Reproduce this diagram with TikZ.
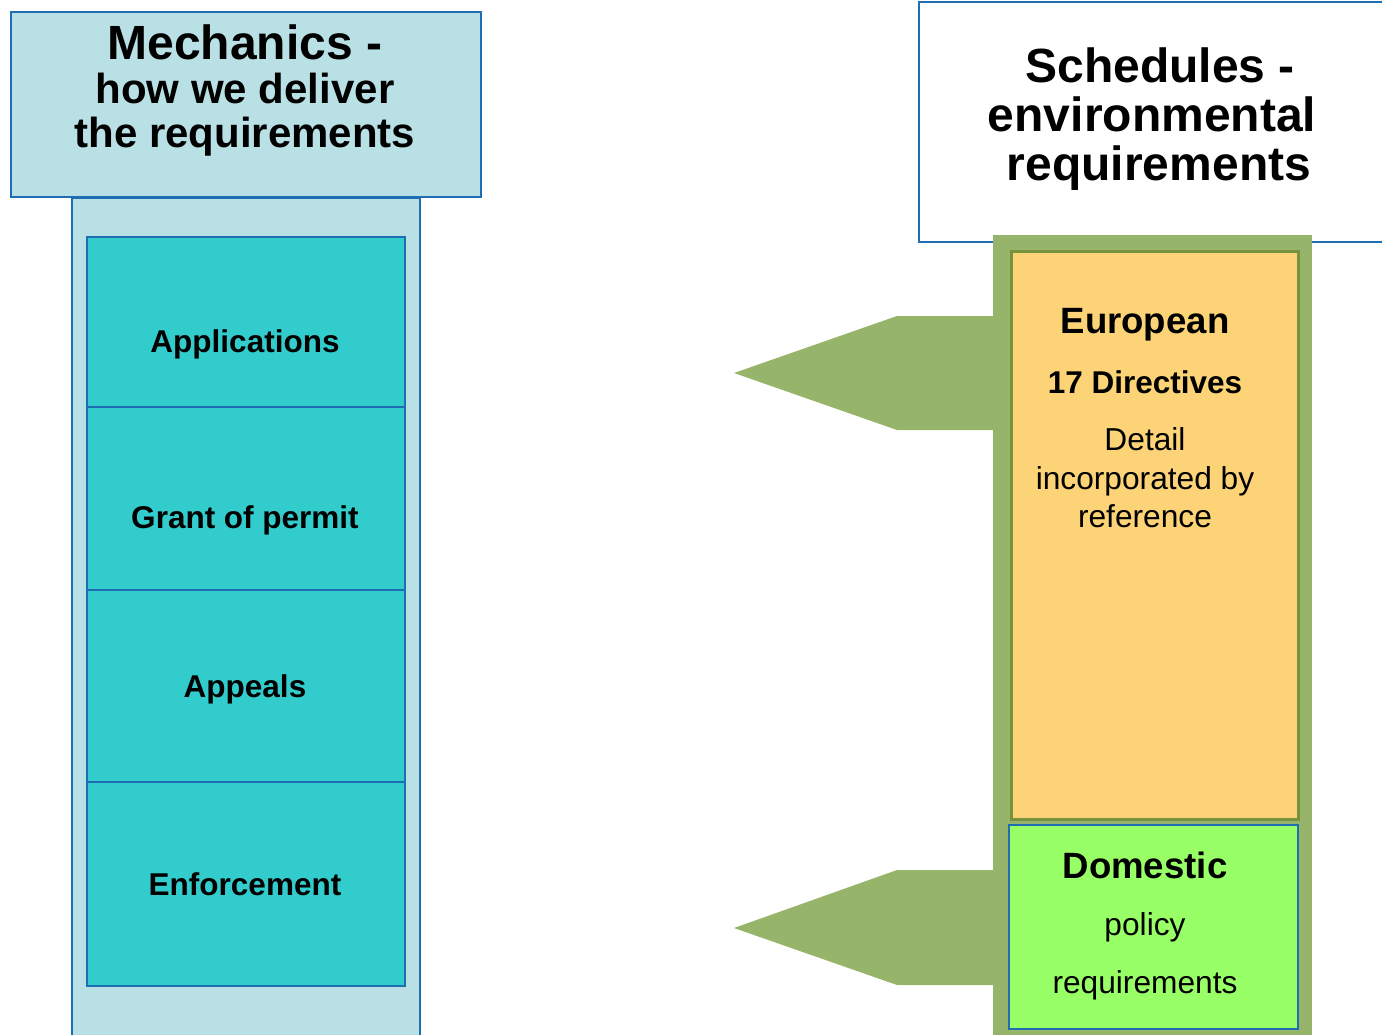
\documentclass[tikz,border=0pt]{standalone}
\usepackage{fontspec}
\setmainfont{Liberation Sans}
\definecolor{lightblue}{HTML}{B9E0E4}
\definecolor{teal}{HTML}{33CCCC}
\definecolor{bordblue}{HTML}{1F6EB4}
\definecolor{leaf}{HTML}{97B46B}
\definecolor{darkleaf}{HTML}{76923C}
\definecolor{amber}{HTML}{FDD378}
\definecolor{lime}{HTML}{99FF66}
\tikzset{
  box/.style={draw=bordblue, line width=1.8pt, inner sep=0pt, anchor=north west},
  stagebox/.style={box, fill=teal},
  lbl/.style={anchor=base, inner sep=0pt, text=black},
  boldlbl/.style={lbl, font=\bfseries\fontsize{31.5}{36}\selectfont},
  normlbl/.style={lbl, font=\fontsize{31.7}{36}\selectfont},
  pointer/.style={fill=leaf, draw=none}
}
\begin{document}
\begin{tikzpicture}[x=1pt,y=-1pt]
\useasboundingbox (0,0) rectangle (1382,1034);
\clip (0,0) rectangle (1382,1034);
% left column
\node[box, fill=lightblue, minimum width=348pt, minimum height=850pt] (lcol) at (71,197) {};
\node[box, fill=lightblue, minimum width=470pt, minimum height=185pt] (ltitle) at (10,11) {};
\node[stagebox, minimum width=318pt, minimum height=170pt] (app) at (86,236) {};
\node[stagebox, minimum width=318pt, minimum height=183pt] (grant) at (86,406) {};
\node[stagebox, minimum width=318pt, minimum height=192pt] (appeal) at (86,589) {};
\node[stagebox, minimum width=318pt, minimum height=204pt] (enf) at (86,781) {};
\node[lbl, font=\bfseries\fontsize{48}{50}\selectfont] (lt1) at (245,59) {Mechanics -};
\node[lbl, font=\bfseries\fontsize{42}{45}\selectfont] (lt2) at (245,103) {how we deliver};
\node[lbl, font=\bfseries\fontsize{42}{45}\selectfont] (lt3) at (245,147) {the requirements};
\node[boldlbl] (appt) at (245,352) {Applications};
\node[boldlbl] (grantt) at (245,528) {Grant of permit};
\node[boldlbl] (appealt) at (245,697) {Appeals};
\node[boldlbl] (enft) at (245,895) {Enforcement};
% right side
\node[box, fill=white, minimum width=480pt, minimum height=240pt] (rtitle) at (918,1) {};
\node[lbl, font=\bfseries\fontsize{48}{50}\selectfont] (rt1) at (1160,82) {Schedules -};
\node[lbl, font=\bfseries\fontsize{48}{50}\selectfont] (rt2) at (1152,131) {environmental};
\node[lbl, font=\bfseries\fontsize{48}{50}\selectfont] (rt3) at (1159,180) {requirements};
\node[inner sep=0pt, anchor=north west, fill=leaf, minimum width=319pt, minimum height=820pt] (gcol) at (993,235) {};
\fill[pointer] (993,316) -- (897,316) -- (734,373) -- (897,430) -- (993,430) -- cycle;
\fill[pointer] (993,870) -- (897,870) -- (734,928) -- (897,985) -- (993,985) -- cycle;
\node[draw=darkleaf, line width=3.5pt, fill=amber, inner sep=0pt, anchor=north west, minimum width=287pt, minimum height=568pt] (euro) at (1009.5,249.5) {};
\node[draw=bordblue, line width=1.5pt, fill=lime, inner sep=0pt, anchor=north west, minimum width=289pt, minimum height=204pt] (dom) at (1008,824) {};
\node[lbl, font=\bfseries\fontsize{36.6}{40}\selectfont] (eut) at (1145,333) {European};
\node[boldlbl] (dirt) at (1145,393) {17 Directives};
\node[normlbl] (d1) at (1145,450) {Detail};
\node[normlbl] (d2) at (1145,489) {incorporated by};
\node[normlbl] (d3) at (1145,527) {reference};
\node[lbl, font=\bfseries\fontsize{36.6}{40}\selectfont] (domt) at (1145,878) {Domestic};
\node[normlbl] (p1) at (1145,935) {policy};
\node[normlbl] (p2) at (1145,993) {requirements};
\end{tikzpicture}
\end{document}
